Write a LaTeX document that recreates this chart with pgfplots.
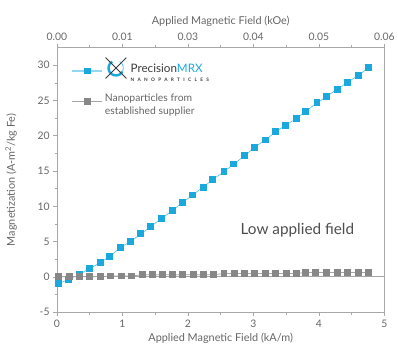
\documentclass[border=0pt]{standalone}
\usepackage{pgfplots}
\pgfplotsset{compat=1.18}
\usepackage{fontspec}
\setmainfont{Lato}
\definecolor{pblue}{HTML}{1AA8DD}
\definecolor{pline}{HTML}{4DBDE8}
\definecolor{pgray}{HTML}{878787}
\definecolor{glin}{HTML}{A5A5A5}
\definecolor{axc}{HTML}{A8A8A8}
\definecolor{txt}{HTML}{666666}
\definecolor{dark}{HTML}{3A3A3A}
\pgfplotstableread{
x y
0.03 -0.95
0.17 -0.38
0.34 0.33
0.49 1.17
0.66 1.98
0.80 2.87
0.97 4.15
1.12 5.00
1.28 6.08
1.43 7.10
1.59 8.25
1.76 9.38
1.91 10.50
2.07 11.60
2.23 12.70
2.38 13.80
2.55 14.90
2.70 16.00
2.87 17.20
3.02 18.40
3.18 19.40
3.34 20.55
3.49 21.50
3.65 22.40
3.80 23.50
3.97 24.65
4.12 25.60
4.28 26.60
4.44 27.60
4.61 28.60
4.76 29.70
}\mrx
\pgfplotstableread{
x y
0.03 0.02
0.19 0.02
0.34 0.02
0.50 0.02
0.67 0.05
0.82 0.12
0.98 0.12
1.14 0.12
1.30 0.30
1.46 0.30
1.61 0.30
1.77 0.30
1.92 0.30
2.08 0.30
2.24 0.30
2.39 0.30
2.55 0.47
2.71 0.47
2.86 0.47
3.02 0.47
3.18 0.47
3.34 0.47
3.50 0.47
3.65 0.47
3.79 0.62
3.95 0.62
4.12 0.62
4.28 0.62
4.44 0.62
4.60 0.62
4.76 0.62
}\other
\begin{document}
\begin{tikzpicture}
\pgfplotsset{
  base/.style={
    scale only axis, width=330.5bp, height=267bp,
    at={(0,0)}, anchor=south west,
    xmin=0, xmax=5, ymin=-5, ymax=32.5,
    tick align=outside,
    major tick length=4bp, minor tick length=2.5bp,
    every tick/.style={axc, line width=0.6pt},
    axis line style={axc, line width=0.8pt},
    tick label style={font=\fontsize{10.5}{12}\selectfont, text=txt},
    label style={font=\fontsize{11}{13}\selectfont, text=txt},
    /pgf/number format/assume math mode=true,
  }
}
\begin{axis}[base,
  axis x line*=top, axis y line=none,
  xtick={0,1,2,3,4,5},
  xticklabels={0.00,0.01,0.03,0.04,0.05,0.06},
  minor xtick={0.5,1.5,2.5,3.5,4.5},
  xlabel={Applied Magnetic Field (kOe)},
  xlabel style={yshift=-1bp},
]
\addplot[draw=none] coordinates {(0,0)};
\end{axis}
\begin{axis}[base,
  axis x line*=bottom, axis y line*=left,
  xtick={0,1,2,3,4,5},
  minor xtick={0.5,1.5,2.5,3.5,4.5},
  ytick={-5,0,5,10,15,20,25,30},
  minor ytick={-2.5,2.5,7.5,12.5,17.5,22.5,27.5},
  xlabel={Applied Magnetic Field (kA/m)},
  ylabel={Magnetization (A-m\textsuperscript{2}/kg Fe)},
  ylabel style={yshift=14bp},
  xlabel style={yshift=1bp},
  legend style={draw=none, fill=none, at={(rel axis cs:0.035,0.955)}, anchor=north west,
    font=\fontsize{10.5}{12.5}\selectfont, text=txt, row sep=11bp},
  legend cell align=left,
  legend image code/.code={\draw[mark repeat=2,mark phase=2,#1] plot coordinates {(0bp,0bp) (15bp,0bp) (30bp,0bp)};},
]
\addplot[glin, line width=0.8pt, forget plot] coordinates {(0,0) (5,0)};
\addplot[pline, line width=0.6pt, mark=square*, mark size=3.0bp,
  mark options={fill=pblue, draw=pblue, line width=0pt},
  legend image post style={line width=1.6pt, draw=pline!60}]
  table[x=x,y=y] {\mrx};
\addlegendentry{\hspace{26bp}\begin{tabular}{@{}l@{}}{\fontsize{11.8}{13}\selectfont\color{dark}Precision\color{pblue}MRX}\\[-3.5bp]{\fontsize{4.8}{5}\selectfont\bfseries\color{dark}\addfontfeatures{LetterSpace=70}NANOPARTICLES}\end{tabular}}
\addplot[glin, line width=0.8pt, mark=square*, mark size=3.0bp,
  mark options={fill=pgray, draw=pgray, line width=0pt}]
  table[x=x,y=y] {\other};
\addlegendentry{\begin{tabular}{@{}l@{}}Nanoparticles from\\established supplier\end{tabular}}
\node[font=\fontsize{15.5}{17}\selectfont, text=dark!90] at (axis cs:3.67,6.66) {Low applied field};
% logo icon
\begin{scope}[shift={(axis cs:0.90,29.6)}]
  \draw[pblue, line width=2.4pt] (120:7.5bp) arc[start angle=120, end angle=330, radius=7.5bp];
  \draw[pblue!70, line width=0.8pt] (330:7.5bp) arc[start angle=-30, end angle=60, radius=7.5bp];
  \draw[dark, line width=0.9pt] (-10.5bp,10.5bp) -- (10.5bp,-10.5bp);
  \draw[dark, line width=0.9pt] (10.5bp,10.5bp) -- (-10.5bp,-10.5bp);
  \fill[dark, rotate=35] (0,0) ellipse[x radius=4bp, y radius=2.6bp];
\end{scope}
\end{axis}
\draw[axc, line width=0.8pt] (330.5bp,0) -- (330.5bp,267bp);
\path[use as bounding box] (-57.5bp,-39bp) rectangle (340.5bp,315bp);
\end{tikzpicture}
\end{document}
